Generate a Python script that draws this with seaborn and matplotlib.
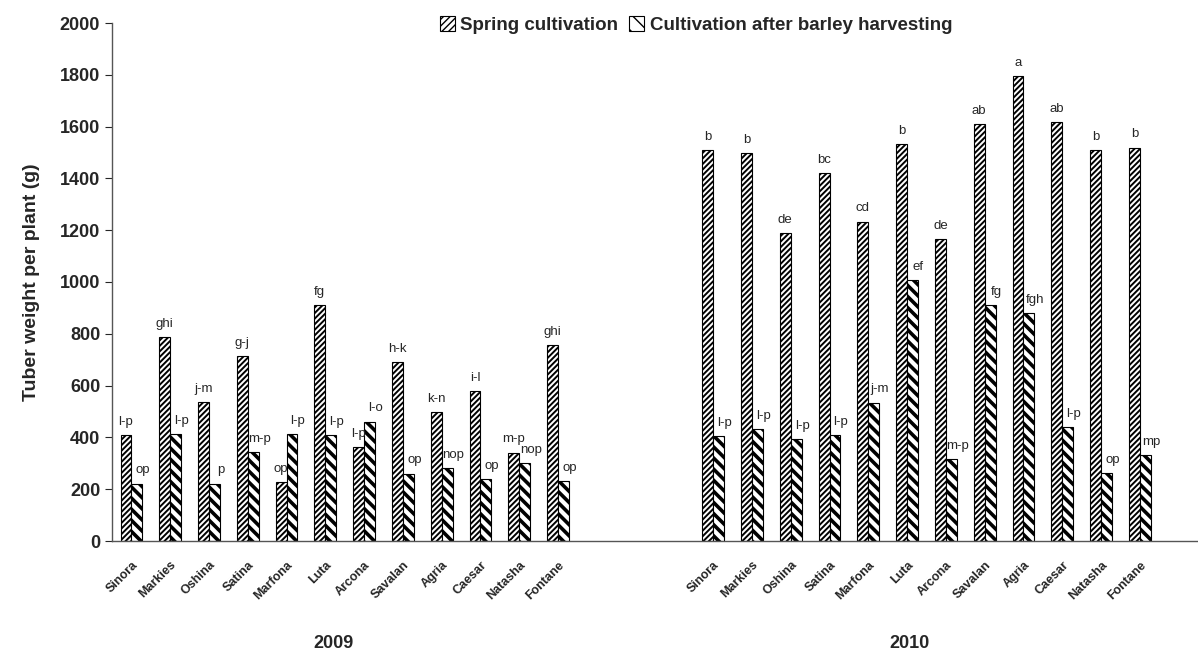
import numpy as np
import pandas as pd
import seaborn as sns
import matplotlib.pyplot as plt
from matplotlib.patches import Patch

# values
cultivars = ["Sinora", "Markies", "Oshina", "Satina", "Marfona", "Luta",
             "Arcona", "Savalan", "Agria", "Caesar", "Natasha", "Fontane"]
treatments = ["Spring cultivation", "Cultivation after barley harvesting"]

spring_2009 = [408, 787, 537, 713, 228, 912, 363, 692, 498, 578, 341, 757]
after_2009 = [222, 414, 222, 342, 413, 408, 461, 260, 280, 238, 300, 230]
spring_2010 = [1510, 1497, 1189, 1420, 1233, 1531, 1165, 1609, 1795, 1616, 1510, 1519]
after_2010 = [405, 432, 394, 409, 534, 1008, 315, 911, 879, 439, 261, 331]

letters_spring_2009 = ["l-p", "ghi", "j-m", "g-j", "op", "fg", "l-p", "h-k", "k-n", "i-l", "m-p", "ghi"]
letters_after_2009 = ["op", "l-p", "p", "m-p", "l-p", "l-p", "l-o", "op", "nop", "op", "nop", "op"]
letters_spring_2010 = ["b", "b", "de", "bc", "cd", "b", "de", "ab", "a", "ab", "b", "b"]
letters_after_2010 = ["l-p", "l-p", "l-p", "l-p", "j-m", "ef", "m-p", "fg", "fgh", "l-p", "op", "mp"]

# long table
rows = []
for year, sp, af, lsp, laf in [("2009", spring_2009, after_2009, letters_spring_2009, letters_after_2009),
                               ("2010", spring_2010, after_2010, letters_spring_2010, letters_after_2010)]:
    for c, v1, v2, l1, l2 in zip(cultivars, sp, af, lsp, laf):
        rows.append({"slot": f"{c} {year}", "Treatment": treatments[0], "Weight": v1, "Letter": l1})
        rows.append({"slot": f"{c} {year}", "Treatment": treatments[1], "Weight": v2, "Letter": l2})
df = pd.DataFrame(rows)

order = [f"{c} 2009" for c in cultivars] + ["_g1", "_g2", "_g3"] + \
        [f"{c} 2010" for c in cultivars] + ["_g4"]

sns.set_style("white")
plt.rcParams["font.family"] = ["Liberation Sans", "DejaVu Sans"]

fig = plt.figure(figsize=(11.98, 6.56), dpi=100)
ax = fig.add_axes([112 / 1198, 1 - 541 / 656, 1 - 112 / 1198, (541 - 23) / 656])

sns.barplot(data=df, x="slot", y="Weight", hue="Treatment", order=order,
            hue_order=treatments, width=0.56, palette=["white", "white"],
            edgecolor="black", linewidth=0.8, errorbar=None, legend=False, ax=ax)

hatches = ["//////", "\\\\\\"]
hlw = [1.4, 2.6]
for cont, h, lw in zip(ax.containers, hatches, hlw):
    for bar in cont:
        bar.set_hatch(h)
        if hasattr(bar, "set_hatch_linewidth"):
            bar.set_hatch_linewidth(lw)

# letters above bars: spring ones centred, the other ones sit over the right edge
lookup = {(r.slot, r.Treatment): r.Letter for r in df.itertuples()}
for cont, t in zip(ax.containers, treatments):
    for bar in cont:
        if t == treatments[0]:
            slot = order[int(round(bar.get_x() + bar.get_width()))]
            xc = bar.get_x() + bar.get_width() / 2
        else:
            slot = order[int(round(bar.get_x()))]
            xc = bar.get_x() + bar.get_width() * 1.05
        ax.text(xc, bar.get_height() + 28, lookup.get((slot, t), ""),
                ha="center", va="bottom", fontsize=9.5)

ax.set_xlim(-0.5, 27.3)
ax.set_ylim(0, 2000)
ax.set_yticks(np.arange(0, 2001, 200))
ax.set_yticklabels([str(v) for v in range(0, 2001, 200)], fontsize=13, fontweight="bold")
ax.set_xticks(range(len(order)))
ax.set_xticklabels([s.split(" ")[0] if not s.startswith("_") else "" for s in order],
                   rotation=45, ha="right", rotation_mode="anchor", fontsize=9, fontweight="bold")
ax.set_xticks(np.arange(-0.5, 27.6, 1), minor=True)
ax.tick_params(axis="x", which="major", length=0, pad=13)
ax.tick_params(axis="x", which="minor", length=5, width=0.8, direction="out")
ax.tick_params(axis="y", length=5, width=0.8, direction="out", left=True)
ax.set_xlabel("")
ax.set_ylabel("Tuber weight per plant (g)", fontsize=14, fontweight="bold", labelpad=14)
for s in ["top", "right"]:
    ax.spines[s].set_visible(False)
for s in ["left", "bottom"]:
    ax.spines[s].set_color("#555555")
    ax.spines[s].set_linewidth(1.0)

fig.text(333 / 1198, 1 - 643 / 656, "2009", ha="center", va="center", fontsize=13, fontweight="bold")
fig.text(910 / 1198, 1 - 643 / 656, "2010", ha="center", va="center", fontsize=13, fontweight="bold")

handles = [Patch(facecolor="white", edgecolor="black", hatch=h, linewidth=0.8) for h in ["/////", "\\\\"]]
fig.legend(handles, treatments, loc="center", bbox_to_anchor=(696 / 1198, 1 - 25 / 656), ncol=2,
           frameon=False, handlelength=0.8, handleheight=0.8, handletextpad=0.3, columnspacing=0.6,
           prop={"weight": "bold", "size": 13.5})

fig.savefig("out.png", dpi=100)
